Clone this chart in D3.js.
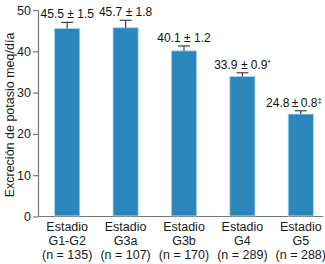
<!DOCTYPE html>
<html>
<head>
<meta charset="utf-8">
<script src="https://cdn.jsdelivr.net/npm/d3@7"></script>
<style>
  body { margin: 0; background: #fff; }
  svg { display: block; font-family: "Liberation Sans", Arial, sans-serif; }
</style>
</head>
<body>
<svg id="chart"></svg>
<script>
// Data
const stages = ["G1-G2", "G3a", "G3b", "G4", "G5"];
const counts = [135, 107, 170, 289, 288];
const means = [45.5, 45.7, 40.1, 33.9, 24.8];
const errors = [1.5, 1.8, 1.2, 0.9, 0.8];
const marks = ["", "", "", "*", "\u2021"];
const separators = [" \u00b1 ", " \u00b1 ", " \u00b1 ", " \u00b1 ", "\u2009\u00b1\u2009"];
const yTicks = [0, 10, 20, 30, 40, 50];

const width = 325;
const height = 264;

const svg = d3.select("#chart")
    .attr("width", width)
    .attr("height", height);

const x = d3.scaleBand()
    .domain(stages)
    .range([38, 330])
    .paddingInner(0.57)
    .paddingOuter(0.285);

const y = d3.scaleLinear()
    .domain([0, 50])
    .range([216.5, 10]);

// y axis
const yAxis = svg.append("g")
    .attr("transform", "translate(38,0)")
    .call(d3.axisLeft(y).tickValues(yTicks).tickSize(5).tickPadding(2).tickSizeOuter(0));
yAxis.select(".domain").attr("stroke", "#777").attr("stroke-width", 1.2);
yAxis.selectAll(".tick line").attr("stroke", "#777").attr("stroke-width", 1.2);
yAxis.selectAll(".tick text")
    .attr("fill", "#1a1a1a")
    .style("font-size", "12.5px");

// x axis line only, no ticks
svg.append("line")
    .attr("x1", 38).attr("x2", 323)
    .attr("y1", y(0)).attr("y2", y(0))
    .attr("stroke", "#777")
    .attr("stroke-width", 1.2);

// bars
svg.append("g")
    .selectAll("rect")
    .data(stages)
    .enter().append("rect")
    .attr("x", d => x(d))
    .attr("width", x.bandwidth())
    .attr("y", (d, i) => y(means[i]))
    .attr("height", (d, i) => y(0) - y(means[i]) - 0.6)
    .attr("fill", "#2a86bb")
    .attr("stroke", "#9fd6f2")
    .attr("stroke-width", 0.8);

// error bars (upper half only)
const err = svg.append("g")
    .attr("stroke", "#444")
    .attr("stroke-width", 1.2);
stages.forEach((d, i) => {
    const cx = x(d) + x.bandwidth() / 2;
    err.append("line")
        .attr("x1", cx).attr("x2", cx)
        .attr("y1", y(means[i])).attr("y2", y(means[i] + errors[i]));
    err.append("line")
        .attr("x1", cx - 6).attr("x2", cx + 6)
        .attr("y1", y(means[i] + errors[i])).attr("y2", y(means[i] + errors[i]));
});

// value labels above the error bars
stages.forEach((d, i) => {
    const cx = x(d) + x.bandwidth() / 2;
    const t = svg.append("text")
        .attr("x", cx)
        .attr("y", y(means[i] + errors[i]) - 4)
        .attr("text-anchor", "middle")
        .attr("fill", "#111")
        .style("font-size", "12px");
    t.append("tspan").text(means[i].toFixed(1) + separators[i] + errors[i].toFixed(1));
    if (marks[i]) {
        t.append("tspan")
            .attr("dy", -4)
            .style("font-size", "8px")
            .text(marks[i]);
    }
    // keep the label inside the picture
    const box = t.node().getBBox();
    const over = box.x + box.width - (width - 3);
    if (over > 0) t.attr("x", cx - over);
});

// category labels
stages.forEach((d, i) => {
    const cx = x(d) + x.bandwidth() / 2;
    const t = svg.append("text")
        .attr("text-anchor", "middle")
        .attr("fill", "#1a1a1a")
        .style("font-size", "12.5px");
    ["Estadio", d, `(n = ${counts[i]})`].forEach((line, k) => {
        t.append("tspan")
            .attr("x", cx)
            .attr("y", 230.5 + k * 14.2)
            .text(line);
    });
});

// y axis title
svg.append("text")
    .attr("transform", "translate(14,115) rotate(-90)")
    .attr("text-anchor", "middle")
    .attr("fill", "#1a1a1a")
    .style("font-size", "12.5px")
    .text("Excreción de potasio meq/día");
</script>
</body>
</html>
